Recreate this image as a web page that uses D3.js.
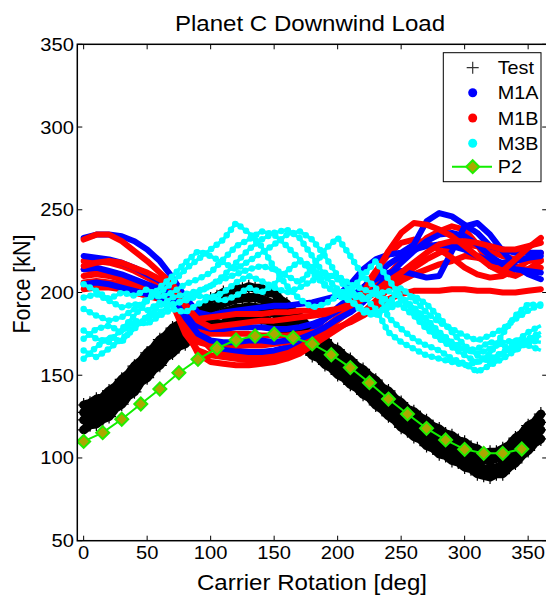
<!DOCTYPE html>
<html>
<head>
<meta charset="utf-8">
<script src="https://cdn.jsdelivr.net/npm/d3@7"></script>
<style>
  body { margin: 0; background: #fff; }
  svg { display: block; }
  text { font-family: "Liberation Sans", Arial, sans-serif; fill: #000; }
</style>
</head>
<body>
<svg id="chart" width="546" height="595"></svg>
<script>
// ---- axis ticks ----
const xTicks = [0, 50, 100, 150, 200, 250, 300, 350];
const yTicks = [50, 100, 150, 200, 250, 300, 350];

// ---- carrier angles (deg) ----
const testDeg = [0,5,10,15,20,25,30,35,40,45,50,55,60,65,70,75,80,85,90,95,100,105,110,115,120,125,130,135,140,145,150,155,160,165,170,175,180,185,190,195,200,205,210,215,220,225,230,235,240,245,250,255,260,265,270,275,280,285,290,295,300,305,310,315,320,325,330,335,340,345,350,355,360];
const modelDeg = [0,10,20,30,40,50,60,70,80,90,100,110,120,130,140,150,160,170,180,190,200,210,220,230,240,250,260,270,280,290,300,310,320,330,340,350,360];
const p2Deg = [0,15,30,45,60,75,90,105,120,135,150,165,180,195,210,225,240,255,270,285,300,315,330,345];

// ---- Test (measured, several revolutions) [kN] ----
const test1 = [117,120,120.5,123.5,125,130,132.5,137.5,140,146,148.5,153.5,156,161,163.5,167.5,169,173.5,175,178.5,178,181,181,184,183.5,185,184.5,186,183.5,183,180.5,179,175,173,168.5,166.5,162,160.5,156.5,154.5,150.5,148.5,144.5,142.5,138.5,136.5,132,129.5,125.5,123,118.5,116.5,113,111.5,107.5,106,102.5,101.5,98.5,97.5,94.5,93.5,90.5,89.5,88.5,90.5,90.5,94.5,97,101.5,104.5,109,111.5];
const test2 = [123,123.5,126,127,131,133.5,138,141,146,149,154,157,162,164.5,169,171,175,177,181,182,184.5,186,188,189,190.5,190.5,191.5,191,190.5,188.5,187.5,184,181.5,178,175,170.5,168,164,162,158,156,152,150,146,144,140,137.5,133,131,126.5,124,120,118.5,115,113,109.5,108,105,104,101,100,97,96,93,94,94,96,98,102.5,105,110,112.5,117];
const test3 = [127.5,129.5,130.5,133,135.5,139.5,142.5,147,150.5,155,158.5,163,166.5,170.5,173.5,177,179.5,183,185.5,188,190,192,193.5,195,196,196.5,197,197,196,194.5,193,190,187,184,180,176.5,172.5,170,166.5,164,160.5,158,154.5,152,148.5,146,142,139,135.5,132.5,128.5,126,123,121,117.5,115.5,112.5,111,108.5,107,104.5,103,100.5,99,98.5,100,100.5,104,107,111,114.5,118.5,121.5];
const test4 = [132,133,135.5,136.5,140.5,143,147.5,150.5,155.5,158.5,163.5,166.5,171.5,174,178.5,180.5,184.5,186.5,190.5,192,196,197.5,200,200.5,202.5,202,203.5,202.5,202.5,200,199.5,195.5,193,188.5,185.5,180.5,178,173.5,171.5,167,165.5,161.5,159.5,155.5,153.5,149.5,147,142.5,140.5,136,133.5,129.5,128,124.5,122.5,119,117.5,114.5,113.5,110.5,109.5,106.5,105.5,102.5,103.5,103.5,105.5,107.5,112,114.5,119.5,121.5,126.5];

// ---- M1A model runs [kN] ----
const m1a1 = [233,235,235,234,231,226,219,209,197,188,186,188,189,190,191,192,192,193,194,196,198,205,214,220,223,224,229,243,248,246,241,236,228,226,224,224,224];
const m1a2 = [222,221,220,218,215,211,207,203,190,178,170,166,165,164,164,165,167,171,177,184,191,197,203,208,212,213,211,209,210,225,240,242,235,225,216,211,208];
const m1a3 = [214,215,213,211,208,205,202,198,185,175,171,170,170,171,171,170,171,172,175,179,184,188,194,202,210,218,225,231,235,236,234,229,222,217,214,213,212];
const m1a4 = [205,206,205,203,201,199,197,194,186,180,178,178,179,179,179,178,178,179,181,184,189,196,203,210,217,222,226,228,229,228,226,222,219,218,219,221,222];

// ---- M1B model runs [kN] ----
const m1b1 = [232,235,235,231,225,219,212,205,193,183,179,180,181,182,183,183,184,185,186,187,190,193,200,212,225,236,242,241,238,234,228,222,216,213,220,227,233];
const m1b2 = [219,219,218,216,213,209,205,200,186,174,166,164,163,162,162,163,165,168,173,179,185,190,196,204,211,219,226,233,237,240,238,229,216,212,210,214,219];
const m1b3 = [214,213,212,210,207,204,201,196,178,163,158,157,156,156,157,158,160,163,168,173,178,183,188,195,202,207,211,214,217,219,222,221,219,216,214,214,215];
const m1b4 = [210,211,210,208,206,203,200,197,187,178,175,175,175,175,174,174,174,175,176,177,179,182,186,191,196,199,201,201,201,202,202,201,201,200,200,201,202];
const m1b5 = [206,207,206,205,203,201,198,195,180,170,168,169,168,168,168,169,170,172,175,179,184,192,202,213,223,230,232,230,226,221,215,211,209,210,214,219,224];
const m1b6 = [202,203,203,202,200,198,196,193,175,165,162,161,160,159,160,161,163,166,171,177,183,189,195,200,204,209,215,220,224,227,229,228,225,222,220,219,220];
const m1b7 = [216,218,219,218,215,212,208,204,192,184,185,186,187,187,187,188,188,189,189,189,190,192,196,201,207,212,218,224,229,231,231,230,228,226,226,228,230];

// ---- M3B model runs [kN] ----
const m3b1 = [190,186,183,185,190,196,200,206,214,220,226,232,242,236,228,215,204,196,191,193,198,200,198,190,176,170,166,162,160,158,156,158,160,164,168,172,176];
const m3b2 = [177,172,170,178,186,195,203,210,218,225,222,218,214,219,224,229,235,237,232,222,210,205,202,199,195,192,186,178,172,167,162,158,163,175,186,193,192];
const m3b3 = [197,199,195,191,193,189,194,192,196,200,204,210,218,226,232,236,238,233,222,210,202,198,196,199,201,196,188,180,173,168,165,166,170,168,165,170,174];
const m3b4 = [165,161,166,172,178,186,192,197,199,201,204,208,211,214,216,214,210,206,214,226,233,222,210,203,185,178,172,168,165,160,157,152,156,160,165,171,170];
const m3b5 = [160,167,173,170,180,184,188,193,195,198,197,200,206,210,207,203,200,203,207,212,208,201,210,219,208,197,191,184,176,170,166,163,166,170,171,168,165];
const m3b6 = [205,201,196,200,198,202,197,200,205,208,212,220,228,232,237,235,228,220,212,204,200,195,190,187,190,194,198,193,185,176,168,162,158,163,170,176,180];
const m3b7 = [172,178,180,176,183,181,186,190,188,193,197,195,198,203,200,205,213,219,216,205,198,195,188,186,193,203,196,188,182,178,174,171,174,178,184,189,193];

// ---- P2 prediction [kN] ----
const p2 = [110,115.3,123.4,132.6,141.7,151.5,159.6,166.3,171.3,173.7,174.9,172.7,168.9,162.4,154.6,145.5,135.6,126.6,117.9,110.9,105.2,102.8,102.8,105.4];

const legendItems = ["Test", "M1A", "M1B", "M3B", "P2"];

// ---- layout ----
const svg = d3.select("#chart");
const plotL = 77.3, plotR = 547.2, plotT = 44.3, plotB = 540.7;
const x = d3.scaleLinear().domain([-5, 365]).range([plotL, plotR]);
const y = d3.scaleLinear().domain([50, 350]).range([plotB, plotT]);
const sx = 1.12; // horizontal text stretch

svg.append("rect").attr("width", 546).attr("height", 595).attr("fill", "#fff");

svg.append("defs").append("clipPath").attr("id", "plotClip")
  .append("rect").attr("x", plotL).attr("y", plotT)
  .attr("width", plotR - plotL).attr("height", plotB - plotT);

const plot = svg.append("g").attr("clip-path", "url(#plotClip)");
const line = d3.line().x(d => x(d[0])).y(d => y(d[1]));
const pairs = (deg, vals) => deg.map((d, i) => [d, vals[i]]);

// Test: dense '+' markers along each revolution
[test1, test2, test3, test4].forEach(run => {
  const pts = pairs(testDeg, run);
  plot.append("path").attr("d", line(pts))
    .attr("fill", "none").attr("stroke", "#000")
    .attr("stroke-width", 9).attr("stroke-linejoin", "round").attr("stroke-linecap", "round");
  plot.append("g").selectAll("path").data(pts).join("path")
    .attr("d", d => `M${x(d[0]) - 7},${y(d[1])}h14M${x(d[0])},${y(d[1]) - 7}v14`)
    .attr("stroke", "#000").attr("stroke-width", 1.2);
});

// M1A and M1B: closely spaced dots forming thick traces, runs interleaved
function thickTrace(vals, color) {
  plot.append("path").attr("d", line(pairs(modelDeg, vals)))
    .attr("fill", "none").attr("stroke", color).attr("stroke-width", 6)
    .attr("stroke-linejoin", "round").attr("stroke-linecap", "round");
}
const BLUE = "#0000ff", RED = "#ff0000";
[[m1b3, RED], [m1b6, RED], [m1b2, RED], [m1a2, BLUE], [m1b5, RED], [m1b4, RED],
 [m1a3, BLUE], [m1a4, BLUE], [m1a1, BLUE], [m1b7, RED], [m1b1, RED]]
  .forEach(([v, c]) => thickTrace(v, c));

// M3B: dotted traces
[m3b1, m3b2, m3b3, m3b4, m3b5, m3b6, m3b7].forEach(v => {
  const d = line(pairs(modelDeg, v));
  plot.append("path").attr("d", d).attr("fill", "none")
    .attr("stroke", "#00ffff").attr("stroke-width", 3.5).attr("stroke-linejoin", "round");
  plot.append("path").attr("d", d).attr("fill", "none")
    .attr("stroke", "#00ffff").attr("stroke-width", 6.5)
    .attr("stroke-linecap", "round").attr("stroke-dasharray", "0 7");
});

// P2: line with diamond markers
const p2pts = pairs(p2Deg, p2);
const diamond = (cx, cy, r) => `M${cx},${cy - r}L${cx + r},${cy}L${cx},${cy + r}L${cx - r},${cy}Z`;
plot.append("path").attr("d", line(p2pts)).attr("fill", "none")
  .attr("stroke", "#11ee00").attr("stroke-width", 2);
plot.append("g").selectAll("path").data(p2pts).join("path")
  .attr("d", d => diamond(x(d[0]), y(d[1]), 6.5))
  .attr("fill", "#aaa800").attr("stroke", "#22ee00").attr("stroke-width", 2);

// ---- axes box and ticks ----
const ax = svg.append("g").attr("stroke", "#000").attr("fill", "none");
ax.append("rect").attr("x", plotL).attr("y", plotT)
  .attr("width", plotR - plotL).attr("height", plotB - plotT).attr("stroke-width", 1.5);
xTicks.forEach(t => {
  ax.append("line").attr("x1", x(t)).attr("x2", x(t)).attr("y1", plotB).attr("y2", plotB - 5).attr("stroke-width", 1);
  ax.append("line").attr("x1", x(t)).attr("x2", x(t)).attr("y1", plotT).attr("y2", plotT + 5).attr("stroke-width", 1);
});
yTicks.forEach(t => {
  ax.append("line").attr("x1", plotL).attr("x2", plotL + 5).attr("y1", y(t)).attr("y2", y(t)).attr("stroke-width", 1);
  ax.append("line").attr("x1", plotR).attr("x2", plotR - 5).attr("y1", y(t)).attr("y2", y(t)).attr("stroke-width", 1);
});

// tick labels
svg.append("g").selectAll("text").data(xTicks).join("text")
  .attr("transform", t => `translate(${x(t)},558.5) scale(${sx},1)`)
  .attr("text-anchor", "middle").attr("font-size", 18).text(t => t);
svg.append("g").selectAll("text").data(yTicks).join("text")
  .attr("transform", t => `translate(74,${y(t) + 6.5}) scale(${sx},1)`)
  .attr("text-anchor", "end").attr("font-size", 18).text(t => t);

// title and axis labels
svg.append("text").attr("transform", `translate(310,30.5) scale(${sx},1)`)
  .attr("text-anchor", "middle").attr("font-size", 21.5).text("Planet C Downwind Load");
svg.append("text").attr("transform", `translate(312,590) scale(${sx},1)`)
  .attr("text-anchor", "middle").attr("font-size", 21.5).text("Carrier Rotation [deg]");
svg.append("text").attr("transform", `translate(29.5,284) scale(${sx},1) rotate(-90)`)
  .attr("text-anchor", "middle").attr("font-size", 21.5).text("Force [kN]");

// ---- legend ----
const lg = svg.append("g");
lg.append("rect").attr("x", 443.3).attr("y", 52.7).attr("width", 97.7).attr("height", 129)
  .attr("fill", "#fff").attr("stroke", "#000").attr("stroke-width", 1);
const rowY = [67.7, 92.7, 118, 143.3, 166.7];
const symX = 472.7;
// Test
lg.append("path").attr("d", `M${symX - 6},${rowY[0]}h12M${symX},${rowY[0] - 6}v12`)
  .attr("stroke", "#333").attr("stroke-width", 1.2);
// M1A, M1B, M3B
["#0000ff", "#ff0000", "#00ffff"].forEach((c, i) => {
  lg.append("circle").attr("cx", symX).attr("cy", rowY[i + 1]).attr("r", 4.5).attr("fill", c);
});
// P2
lg.append("line").attr("x1", 452).attr("x2", 492).attr("y1", rowY[4]).attr("y2", rowY[4])
  .attr("stroke", "#11ee00").attr("stroke-width", 2);
lg.append("path").attr("d", diamond(symX, rowY[4], 6.5))
  .attr("fill", "#aaa800").attr("stroke", "#22ee00").attr("stroke-width", 2);
lg.selectAll("text.lab").data(legendItems).join("text").attr("class", "lab")
  .attr("transform", (d, i) => `translate(497.7,${rowY[i] + 6.5}) scale(${sx},1)`)
  .attr("font-size", 17.7).text(d => d);
</script>
</body>
</html>
